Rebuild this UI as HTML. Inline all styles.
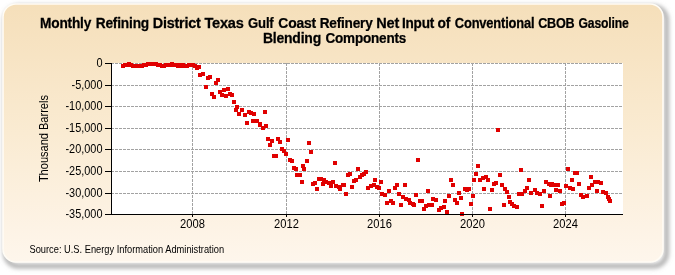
<!DOCTYPE html>
<html><head><meta charset="utf-8"><style>
html,body{margin:0;padding:0;background:#fff;width:675px;height:275px;overflow:hidden}
svg{display:block}
text{font-family:"Liberation Sans",sans-serif}
</style></head><body>
<svg width="675" height="275" viewBox="0 0 675 275">
<defs>
<linearGradient id="bg" x1="0" y1="0" x2="0" y2="1">
<stop offset="0" stop-color="#F5DFBA"/>
<stop offset="0.5" stop-color="#FAEBD2"/>
<stop offset="1" stop-color="#FEF6EC"/>
</linearGradient>
<filter id="soft" filterUnits="userSpaceOnUse" x="0" y="0" width="675" height="275"><feGaussianBlur stdDeviation="0.35"/></filter>
<filter id="sh" filterUnits="userSpaceOnUse" x="0" y="0" width="675" height="275"><feGaussianBlur stdDeviation="2.2"/></filter>
</defs>
<g filter="url(#soft)">
<rect x="5.5" y="7" width="661" height="259" rx="13" fill="none" stroke="#b0b0b0" stroke-width="5" filter="url(#sh)"/>
<rect x="3" y="4" width="660" height="258" rx="13" fill="url(#bg)" stroke="#fffcf5" stroke-width="1.6"/>
<g font-weight="bold" font-size="14" letter-spacing="-0.2" fill="#000" stroke="#000" stroke-width="0.25">
<text transform="translate(40.12,28) scale(0.9769,1)">Monthly</text>
<text transform="translate(95.72,28) scale(0.9811,1)">Refining</text>
<text transform="translate(152.77,28) scale(1.0283,1)">District</text>
<text transform="translate(204.40,28) scale(1.0421,1)">Texas</text>
<text transform="translate(248.10,28) scale(0.9357,1)">Gulf</text>
<text transform="translate(278.30,28) scale(0.9921,1)">Coast</text>
<text transform="translate(319.63,28) scale(0.9741,1)">Refinery</text>
<text transform="translate(376.26,28) scale(1.0381,1)">Net</text>
<text transform="translate(401.93,28) scale(0.9697,1)">Input</text>
<text transform="translate(437.60,28) scale(0.9846,1)">of</text>
<text transform="translate(454.80,28) scale(0.9233,1)">Conventional</text>
<text transform="translate(538.20,28) scale(0.9000,1)">CBOB</text>
<text transform="translate(578.50,28) scale(0.8707,1)">Gasoline</text>
<text transform="translate(262.90,42.5) scale(0.9982,1)">Blending</text>
<text transform="translate(325.50,42.5) scale(0.9643,1)">Components</text>
</g>
<rect x="111" y="63" width="512" height="151" fill="#fff"/>
<g stroke="#a2a2a2" stroke-width="1" stroke-dasharray="3 1" shape-rendering="crispEdges">
<line x1="111" y1="63.5" x2="623" y2="63.5"/><line x1="111" y1="85.5" x2="623" y2="85.5"/><line x1="111" y1="106.5" x2="623" y2="106.5"/><line x1="111" y1="128.5" x2="623" y2="128.5"/><line x1="111" y1="149.5" x2="623" y2="149.5"/><line x1="111" y1="171.5" x2="623" y2="171.5"/><line x1="111" y1="193.5" x2="623" y2="193.5"/><line x1="192.5" y1="63" x2="192.5" y2="214"/><line x1="286.5" y1="63" x2="286.5" y2="214"/><line x1="379.5" y1="63" x2="379.5" y2="214"/><line x1="472.5" y1="63" x2="472.5" y2="214"/><line x1="565.5" y1="63" x2="565.5" y2="214"/>
</g>
<g fill="#e00000" shape-rendering="crispEdges">
<rect x="121.0" y="63.6" width="4" height="4"/><rect x="122.9" y="62.8" width="4" height="4"/><rect x="124.9" y="63.2" width="4" height="4"/><rect x="126.8" y="62.1" width="4" height="4"/><rect x="128.8" y="62.9" width="4" height="4"/><rect x="130.7" y="63.5" width="4" height="4"/><rect x="132.7" y="63.8" width="4" height="4"/><rect x="134.6" y="64.0" width="4" height="4"/><rect x="136.6" y="63.9" width="4" height="4"/><rect x="138.5" y="64.0" width="4" height="4"/><rect x="140.4" y="63.8" width="4" height="4"/><rect x="142.4" y="63.3" width="4" height="4"/><rect x="144.3" y="63.3" width="4" height="4"/><rect x="146.3" y="62.3" width="4" height="4"/><rect x="148.2" y="62.0" width="4" height="4"/><rect x="150.2" y="61.8" width="4" height="4"/><rect x="152.1" y="62.4" width="4" height="4"/><rect x="154.1" y="62.1" width="4" height="4"/><rect x="156.0" y="63.2" width="4" height="4"/><rect x="157.9" y="63.4" width="4" height="4"/><rect x="159.9" y="63.7" width="4" height="4"/><rect x="161.8" y="63.5" width="4" height="4"/><rect x="163.8" y="62.9" width="4" height="4"/><rect x="165.7" y="62.7" width="4" height="4"/><rect x="167.7" y="62.6" width="4" height="4"/><rect x="169.6" y="62.1" width="4" height="4"/><rect x="171.6" y="63.3" width="4" height="4"/><rect x="173.5" y="62.5" width="4" height="4"/><rect x="175.5" y="64.1" width="4" height="4"/><rect x="177.4" y="62.8" width="4" height="4"/><rect x="179.3" y="64.3" width="4" height="4"/><rect x="181.3" y="63.1" width="4" height="4"/><rect x="183.2" y="64.1" width="4" height="4"/><rect x="185.2" y="63.8" width="4" height="4"/><rect x="187.1" y="63.3" width="4" height="4"/><rect x="189.1" y="63.2" width="4" height="4"/><rect x="191.0" y="63.3" width="4" height="4"/><rect x="193.0" y="63.7" width="4" height="4"/><rect x="194.9" y="65.7" width="4" height="4"/><rect x="196.8" y="64.9" width="4" height="4"/><rect x="198.4" y="72.7" width="4" height="4"/><rect x="201.3" y="71.9" width="4" height="4"/><rect x="205.6" y="75.6" width="4" height="4"/><rect x="207.8" y="74.6" width="4" height="4"/><rect x="204.2" y="84.8" width="4" height="4"/><rect x="213.9" y="80.7" width="4" height="4"/><rect x="215.8" y="77.8" width="4" height="4"/><rect x="210.0" y="91.6" width="4" height="4"/><rect x="212.2" y="94.5" width="4" height="4"/><rect x="218.1" y="89.6" width="4" height="4"/><rect x="221.7" y="87.9" width="4" height="4"/><rect x="225.8" y="86.7" width="4" height="4"/><rect x="219.5" y="93.3" width="4" height="4"/><rect x="223.9" y="93.7" width="4" height="4"/><rect x="228.3" y="91.8" width="4" height="4"/><rect x="230.4" y="92.5" width="4" height="4"/><rect x="231.6" y="99.8" width="4" height="4"/><rect x="234.8" y="104.9" width="4" height="4"/><rect x="234.1" y="107.8" width="4" height="4"/><rect x="239.9" y="107.8" width="4" height="4"/><rect x="237.0" y="111.7" width="4" height="4"/><rect x="242.8" y="112.9" width="4" height="4"/><rect x="247.2" y="109.7" width="4" height="4"/><rect x="252.2" y="111.7" width="4" height="4"/><rect x="249.3" y="110.7" width="4" height="4"/><rect x="263.1" y="109.7" width="4" height="4"/><rect x="244.9" y="120.7" width="4" height="4"/><rect x="251.2" y="118.7" width="4" height="4"/><rect x="254.8" y="118.7" width="4" height="4"/><rect x="257.7" y="121.6" width="4" height="4"/><rect x="258.4" y="123.3" width="4" height="4"/><rect x="260.9" y="125.5" width="4" height="4"/><rect x="263.8" y="123.8" width="4" height="4"/><rect x="265.8" y="136.7" width="4" height="4"/><rect x="269.7" y="138.9" width="4" height="4"/><rect x="267.5" y="143.0" width="4" height="4"/><rect x="276.0" y="136.7" width="4" height="4"/><rect x="278.0" y="139.9" width="4" height="4"/><rect x="286.1" y="137.9" width="4" height="4"/><rect x="306.8" y="140.8" width="4" height="4"/><rect x="279.5" y="146.6" width="4" height="4"/><rect x="281.8" y="149.1" width="4" height="4"/><rect x="283.8" y="151.5" width="4" height="4"/><rect x="271.6" y="153.9" width="4" height="4"/><rect x="274.1" y="153.9" width="4" height="4"/><rect x="309.0" y="149.8" width="4" height="4"/><rect x="287.6" y="157.8" width="4" height="4"/><rect x="290.1" y="158.8" width="4" height="4"/><rect x="304.6" y="158.8" width="4" height="4"/><rect x="291.5" y="165.5" width="4" height="4"/><rect x="301.0" y="163.6" width="4" height="4"/><rect x="302.4" y="166.5" width="4" height="4"/><rect x="332.8" y="160.9" width="4" height="4"/><rect x="293.7" y="167.3" width="4" height="4"/><rect x="295.4" y="172.6" width="4" height="4"/><rect x="297.6" y="172.6" width="4" height="4"/><rect x="299.8" y="179.9" width="4" height="4"/><rect x="310.7" y="182.1" width="4" height="4"/><rect x="312.9" y="180.6" width="4" height="4"/><rect x="315.1" y="186.7" width="4" height="4"/><rect x="316.5" y="176.5" width="4" height="4"/><rect x="319.0" y="176.5" width="4" height="4"/><rect x="321.6" y="178.0" width="4" height="4"/><rect x="320.9" y="182.1" width="4" height="4"/><rect x="324.2" y="179.9" width="4" height="4"/><rect x="326.7" y="181.3" width="4" height="4"/><rect x="328.9" y="183.5" width="4" height="4"/><rect x="331.1" y="179.9" width="4" height="4"/><rect x="334.0" y="183.8" width="4" height="4"/><rect x="336.9" y="185.3" width="4" height="4"/><rect x="337.9" y="187.2" width="4" height="4"/><rect x="340.5" y="182.8" width="4" height="4"/><rect x="342.0" y="182.8" width="4" height="4"/><rect x="344.1" y="192.2" width="4" height="4"/><rect x="346.3" y="173.3" width="4" height="4"/><rect x="347.8" y="171.6" width="4" height="4"/><rect x="350.0" y="184.7" width="4" height="4"/><rect x="352.1" y="179.2" width="4" height="4"/><rect x="354.3" y="178.0" width="4" height="4"/><rect x="355.8" y="166.8" width="4" height="4"/><rect x="357.9" y="174.5" width="4" height="4"/><rect x="360.1" y="173.3" width="4" height="4"/><rect x="362.0" y="171.6" width="4" height="4"/><rect x="364.0" y="170.4" width="4" height="4"/><rect x="365.9" y="186.0" width="4" height="4"/><rect x="368.8" y="183.8" width="4" height="4"/><rect x="371.7" y="183.1" width="4" height="4"/><rect x="374.6" y="184.5" width="4" height="4"/><rect x="376.8" y="185.6" width="4" height="4"/><rect x="373.2" y="178.0" width="4" height="4"/><rect x="379.0" y="179.7" width="4" height="4"/><rect x="380.4" y="191.8" width="4" height="4"/><rect x="382.6" y="192.8" width="4" height="4"/><rect x="387.0" y="188.9" width="4" height="4"/><rect x="384.8" y="200.5" width="4" height="4"/><rect x="389.2" y="199.1" width="4" height="4"/><rect x="390.6" y="201.0" width="4" height="4"/><rect x="392.8" y="186.0" width="4" height="4"/><rect x="395.0" y="182.7" width="4" height="4"/><rect x="396.7" y="191.8" width="4" height="4"/><rect x="403.0" y="183.1" width="4" height="4"/><rect x="399.0" y="202.7" width="4" height="4"/><rect x="400.8" y="195.4" width="4" height="4"/><rect x="403.7" y="196.6" width="4" height="4"/><rect x="406.6" y="198.3" width="4" height="4"/><rect x="408.1" y="200.5" width="4" height="4"/><rect x="411.0" y="202.0" width="4" height="4"/><rect x="412.4" y="203.0" width="4" height="4"/><rect x="413.9" y="192.5" width="4" height="4"/><rect x="417.5" y="198.6" width="4" height="4"/><rect x="420.0" y="199.1" width="4" height="4"/><rect x="425.8" y="188.9" width="4" height="4"/><rect x="421.9" y="206.8" width="4" height="4"/><rect x="424.0" y="203.9" width="4" height="4"/><rect x="427.0" y="202.7" width="4" height="4"/><rect x="429.9" y="203.4" width="4" height="4"/><rect x="431.3" y="196.9" width="4" height="4"/><rect x="434.2" y="197.6" width="4" height="4"/><rect x="437.1" y="207.8" width="4" height="4"/><rect x="439.3" y="206.3" width="4" height="4"/><rect x="441.5" y="204.9" width="4" height="4"/><rect x="442.7" y="198.6" width="4" height="4"/><rect x="445.1" y="209.7" width="4" height="4"/><rect x="447.0" y="193.7" width="4" height="4"/><rect x="448.8" y="178.0" width="4" height="4"/><rect x="450.9" y="183.1" width="4" height="4"/><rect x="453.1" y="197.6" width="4" height="4"/><rect x="454.6" y="201.0" width="4" height="4"/><rect x="457.2" y="191.1" width="4" height="4"/><rect x="458.9" y="195.7" width="4" height="4"/><rect x="460.1" y="211.7" width="4" height="4"/><rect x="415.7" y="157.9" width="4" height="4"/><rect x="475.6" y="163.7" width="4" height="4"/><rect x="473.8" y="171.5" width="4" height="4"/><rect x="472.0" y="177.8" width="4" height="4"/><rect x="478.0" y="177.8" width="4" height="4"/><rect x="480.7" y="175.6" width="4" height="4"/><rect x="483.6" y="174.5" width="4" height="4"/><rect x="486.0" y="177.8" width="4" height="4"/><rect x="491.6" y="181.7" width="4" height="4"/><rect x="494.2" y="180.7" width="4" height="4"/><rect x="498.1" y="172.7" width="4" height="4"/><rect x="499.8" y="182.6" width="4" height="4"/><rect x="519.1" y="167.6" width="4" height="4"/><rect x="526.8" y="177.8" width="4" height="4"/><rect x="463.3" y="186.6" width="4" height="4"/><rect x="466.9" y="187.3" width="4" height="4"/><rect x="482.1" y="187.4" width="4" height="4"/><rect x="490.1" y="187.5" width="4" height="4"/><rect x="496.0" y="128.0" width="4" height="4"/><rect x="465.4" y="188.4" width="4" height="4"/><rect x="469.0" y="201.9" width="4" height="4"/><rect x="470.7" y="193.7" width="4" height="4"/><rect x="487.9" y="207.3" width="4" height="4"/><rect x="502.1" y="202.5" width="4" height="4"/><rect x="503.1" y="187.3" width="4" height="4"/><rect x="504.6" y="189.8" width="4" height="4"/><rect x="506.8" y="194.6" width="4" height="4"/><rect x="508.2" y="199.5" width="4" height="4"/><rect x="510.0" y="202.2" width="4" height="4"/><rect x="511.9" y="204.3" width="4" height="4"/><rect x="514.8" y="204.8" width="4" height="4"/><rect x="517.0" y="192.0" width="4" height="4"/><rect x="519.9" y="191.7" width="4" height="4"/><rect x="522.5" y="189.4" width="4" height="4"/><rect x="524.5" y="185.9" width="4" height="4"/><rect x="529.3" y="190.8" width="4" height="4"/><rect x="532.7" y="188.4" width="4" height="4"/><rect x="535.1" y="190.5" width="4" height="4"/><rect x="538.0" y="191.7" width="4" height="4"/><rect x="539.9" y="203.6" width="4" height="4"/><rect x="542.0" y="188.8" width="4" height="4"/><rect x="543.8" y="180.1" width="4" height="4"/><rect x="546.8" y="182.1" width="4" height="4"/><rect x="548.9" y="183.0" width="4" height="4"/><rect x="547.8" y="193.7" width="4" height="4"/><rect x="550.4" y="181.7" width="4" height="4"/><rect x="552.6" y="182.5" width="4" height="4"/><rect x="555.8" y="182.9" width="4" height="4"/><rect x="554.1" y="187.6" width="4" height="4"/><rect x="557.8" y="188.8" width="4" height="4"/><rect x="565.7" y="166.8" width="4" height="4"/><rect x="572.5" y="170.7" width="4" height="4"/><rect x="575.2" y="170.7" width="4" height="4"/><rect x="569.6" y="177.7" width="4" height="4"/><rect x="576.6" y="181.8" width="4" height="4"/><rect x="563.5" y="183.5" width="4" height="4"/><rect x="567.6" y="185.8" width="4" height="4"/><rect x="570.9" y="186.8" width="4" height="4"/><rect x="589.0" y="174.8" width="4" height="4"/><rect x="592.6" y="180.0" width="4" height="4"/><rect x="595.5" y="180.0" width="4" height="4"/><rect x="598.7" y="180.7" width="4" height="4"/><rect x="590.4" y="182.6" width="4" height="4"/><rect x="586.6" y="185.8" width="4" height="4"/><rect x="594.8" y="188.7" width="4" height="4"/><rect x="600.6" y="189.5" width="4" height="4"/><rect x="604.2" y="190.5" width="4" height="4"/><rect x="559.9" y="201.9" width="4" height="4"/><rect x="562.1" y="200.7" width="4" height="4"/><rect x="578.8" y="192.7" width="4" height="4"/><rect x="581.0" y="194.6" width="4" height="4"/><rect x="584.6" y="193.7" width="4" height="4"/><rect x="606.4" y="194.6" width="4" height="4"/><rect x="607.4" y="197.1" width="4" height="4"/><rect x="607.9" y="199.0" width="4" height="4"/>
</g>
<g stroke="#000" stroke-width="1" shape-rendering="crispEdges">
<line x1="111.5" y1="63" x2="111.5" y2="214.5"/>
<line x1="111" y1="214.5" x2="623" y2="214.5"/>
<line x1="105" y1="63.5" x2="111" y2="63.5"/><line x1="105" y1="85.5" x2="111" y2="85.5"/><line x1="105" y1="106.5" x2="111" y2="106.5"/><line x1="105" y1="128.5" x2="111" y2="128.5"/><line x1="105" y1="149.5" x2="111" y2="149.5"/><line x1="105" y1="171.5" x2="111" y2="171.5"/><line x1="105" y1="193.5" x2="111" y2="193.5"/><line x1="105" y1="214.5" x2="111" y2="214.5"/><line x1="192.5" y1="214" x2="192.5" y2="217"/><line x1="286.5" y1="214" x2="286.5" y2="217"/><line x1="379.5" y1="214" x2="379.5" y2="217"/><line x1="472.5" y1="214" x2="472.5" y2="217"/><line x1="565.5" y1="214" x2="565.5" y2="217"/>
</g>
<g font-size="12" fill="#000">
<text transform="translate(102.5,67.10) scale(0.91,1)" text-anchor="end">0</text><text transform="translate(102.5,89.10) scale(0.91,1)" text-anchor="end">-5,000</text><text transform="translate(102.5,110.10) scale(0.91,1)" text-anchor="end">-10,000</text><text transform="translate(102.5,132.10) scale(0.91,1)" text-anchor="end">-15,000</text><text transform="translate(102.5,153.10) scale(0.91,1)" text-anchor="end">-20,000</text><text transform="translate(102.5,175.10) scale(0.91,1)" text-anchor="end">-25,000</text><text transform="translate(102.5,197.10) scale(0.91,1)" text-anchor="end">-30,000</text><text transform="translate(102.5,218.10) scale(0.91,1)" text-anchor="end">-35,000</text>
<text transform="translate(192.50,227.8) scale(0.93,1)" text-anchor="middle">2008</text><text transform="translate(286.50,227.8) scale(0.93,1)" text-anchor="middle">2012</text><text transform="translate(379.50,227.8) scale(0.93,1)" text-anchor="middle">2016</text><text transform="translate(472.50,227.8) scale(0.93,1)" text-anchor="middle">2020</text><text transform="translate(565.50,227.8) scale(0.93,1)" text-anchor="middle">2024</text>
</g>
<text transform="translate(47.6,138.6) rotate(-90) scale(0.92,1)" font-size="12" text-anchor="middle" fill="#000">Thousand Barrels</text>
<text transform="translate(29.5,253) scale(0.93,1)" font-size="10" fill="#000">Source: U.S. Energy Information Administration</text>
</g>
</svg>
</body></html>
